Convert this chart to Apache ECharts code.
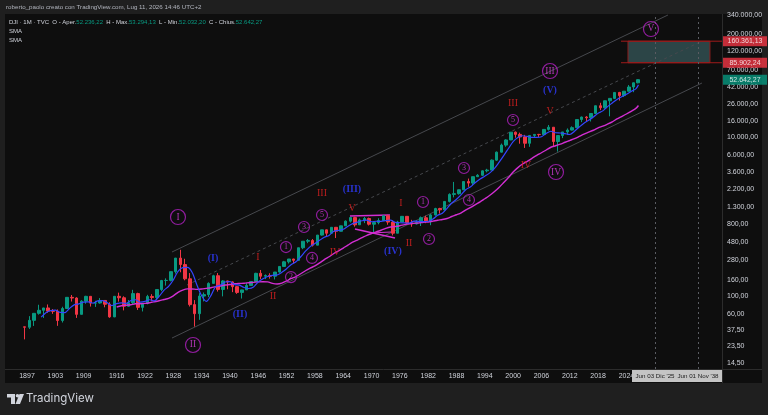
<!DOCTYPE html>
<html>
<head>
<meta charset="utf-8">
<title>DJI 1M - TVC</title>
<script src="https://cdn.jsdelivr.net/npm/echarts@6/dist/echarts.min.js"></script>
<style>
    html, body { margin: 0; padding: 0; background: #1f1f1f; }
    #main { width: 768px; height: 415px; }
</style>
</head>
<body>
<div id="main"></div>
<script>
// yearly candles of the Dow Jones Industrial Average (1896 .. 2026)
var firstYear = 1896;
var firstOpen = 40.94;
var closes = [
    40.45, 49.41, 60.52, 66.08, 70.71, 64.56, 64.29, 49.11, 69.61, 96.20,
    94.35, 58.75, 86.15, 99.05, 81.36, 81.68, 87.87, 78.78, 54.58, 99.15,
    95.00, 74.38, 82.20, 107.23, 71.95, 81.10, 98.73, 95.52, 120.51, 156.66,
    157.20, 202.40, 300.00, 248.48, 164.58, 77.90, 59.93, 99.90, 104.04, 144.13,
    179.90, 120.85, 154.76, 150.24, 131.13, 110.96, 119.40, 135.89, 152.32, 192.91,
    177.20, 181.16, 177.30, 200.13, 235.41, 269.23, 291.90, 280.90, 404.39, 488.40,
    499.47, 435.69, 583.65, 679.36, 615.89, 731.14, 652.10, 762.95, 874.13, 969.26,
    785.69, 905.11, 943.75, 800.36, 838.92, 890.20, 1020.02, 850.86, 616.24, 852.41,
    1004.65, 831.17, 805.01, 838.74, 963.99, 875.00, 1046.54, 1258.64, 1211.57, 1546.67,
    1895.95, 1938.83, 2168.57, 2753.20, 2633.66, 3168.83, 3301.11, 3754.09, 3834.44, 5117.12,
    6448.27, 7908.25, 9181.43, 11497.12, 10786.85, 10021.50, 8341.63, 10453.92, 10783.01, 10717.50,
    12463.15, 13264.82, 8776.39, 10428.05, 11577.51, 12217.56, 13104.14, 16576.66, 17823.07, 17425.03,
    19762.60, 24719.22, 23327.46, 28538.44, 30606.48, 36338.30, 33147.25, 37689.54, 42544.22, 48063.29,
    52642.27
];
var lows = [
    28.48, 38.49, 42.00, 58.27, 52.96, 61.52, 59.57, 42.15, 46.41, 68.76,
    85.18, 53.00, 58.62, 79.91, 73.62, 72.94, 80.15, 72.11, 53.17, 54.22,
    84.96, 65.95, 73.38, 79.15, 66.75, 63.90, 78.59, 85.76, 88.33, 115.00,
    135.20, 152.73, 191.33, 198.69, 157.51, 73.79, 41.22, 50.16, 85.51, 96.71,
    143.11, 113.64, 98.95, 121.44, 111.84, 106.34, 92.92, 119.26, 134.22, 151.35,
    163.12, 163.21, 165.39, 161.60, 196.81, 238.99, 256.35, 255.49, 279.87, 388.20,
    462.35, 419.79, 436.89, 574.46, 566.05, 610.25, 535.76, 646.79, 766.08, 840.59,
    744.32, 786.41, 825.13, 769.93, 631.16, 797.97, 889.15, 788.31, 577.60, 632.04,
    858.71, 800.85, 742.12, 796.67, 759.13, 824.01, 776.92, 1027.04, 1086.57, 1184.96,
    1502.29, 1738.74, 1879.14, 2144.64, 2365.10, 2470.30, 3136.58, 3241.95, 3593.35, 3832.08,
    5000.00, 6391.69, 7539.07, 9120.67, 9796.03, 8235.81, 7286.27, 7524.06, 9749.99, 10012.36,
    10667.39, 12050.41, 7552.29, 6547.05, 9686.48, 10655.30, 12101.46, 13328.85, 15372.80, 15666.44,
    15660.18, 19732.40, 21792.20, 22686.22, 18213.65, 29982.62, 28725.51, 31819.14, 37266.67, 36611.78,
    47300.00
];
var highs = [
    40.94, 55.82, 60.97, 77.61, 71.04, 78.26, 68.44, 67.70, 73.23, 96.56,
    103.00, 96.37, 88.38, 100.53, 98.34, 87.06, 94.15, 88.57, 83.43, 99.21,
    110.15, 99.18, 89.07, 119.62, 109.88, 81.50, 103.43, 105.38, 120.51, 159.39,
    166.64, 202.40, 300.00, 381.17, 294.07, 194.36, 88.78, 108.67, 110.74, 148.44,
    184.90, 194.40, 158.41, 155.92, 152.80, 133.59, 119.71, 145.82, 152.53, 195.82,
    212.50, 186.85, 193.16, 200.52, 235.47, 276.37, 292.00, 293.79, 404.39, 488.40,
    521.05, 520.77, 583.65, 679.36, 685.47, 734.91, 726.01, 767.21, 891.71, 969.26,
    995.15, 943.08, 985.21, 968.85, 842.00, 950.82, 1036.27, 1051.70, 891.66, 881.81,
    1014.79, 999.75, 907.74, 897.61, 1000.17, 1024.05, 1070.55, 1287.20, 1286.64, 1553.10,
    1955.57, 2722.42, 2183.50, 2791.41, 2999.75, 3168.83, 3413.21, 3794.33, 3978.36, 5216.47,
    6560.91, 8259.31, 9374.27, 11497.12, 11722.98, 11337.92, 10635.25, 10453.92, 10854.54, 10940.55,
    12510.57, 14164.53, 13058.20, 10548.51, 11585.38, 12810.54, 13610.15, 16576.66, 18053.71, 18312.39,
    19974.62, 24837.51, 26951.81, 28701.66, 30606.48, 36488.63, 36952.65, 37710.10, 45014.04, 48431.57,
    53294.13
];

// axis labels
var yearTicks = [1897, 1903, 1909, 1916, 1922, 1928, 1934, 1940, 1946, 1952, 1958,
    1964, 1970, 1976, 1982, 1988, 1994, 2000, 2006, 2012, 2018, 2024];
var priceTicks = [14.5, 23.5, 37.5, 60, 100, 160, 280, 480, 800, 1300, 2200, 3600,
    6000, 10000, 16000, 26000, 42000, 70000, 120000, 200000, 340000];

// drawings: [year, price]
var upperChannel = [[1927.72, 357.6], [2032.8, 342400]];
var midChannel = [[1930.9, 137.5], [2039.6, 156700]];
var lowerChannel = [[1927.72, 29.6], [2040.0, 47750]];
var triangleTop = [[1965.43, 1014.6], [1973.9, 1044]];
var triangleLow = [[1966.49, 696], [1974.97, 536.6]];
var triangleMid = [[1969.7, 620], [1974.6, 640]];
var targetHigh = 160361.13;
var targetLow = 85902.24;
var targetBox = [2024.33, 2041.7];
var targetLineStart = 2022.85;
var lastClose = 52642.27;
var futureDates = [2030.05, 2039.2];

// Elliott wave labels: [year, price, text]
var waveMajor = [[1928.99, 985, 'I'], [1932.17, 24.2, 'II'], [2007.81, 67600, 'III'],
    [2009.08, 3628, 'IV'], [2029.2, 228300, 'V']];
var waveMinor = [[1951.87, 413, '1'], [1952.93, 173, '2'], [1955.69, 738, '3'],
    [1957.38, 301, '4'], [1959.5, 1044, '5'], [1980.9, 1522, '1'], [1982.17, 521, '2'],
    [1989.58, 4074, '3'], [1990.64, 1612, '4'], [1999.97, 16360, '5']];
var waveRed = [[1945.94, 309, 'I'], [1949.12, 100, 'II'], [1959.5, 1975, 'III'],
    [1962.25, 358, 'IV'], [1965.86, 1279, 'V'], [1976.24, 1480, 'I'], [1977.93, 464, 'II'],
    [1999.97, 26770, 'III'], [2002.72, 4444, 'IV'], [2007.81, 21230, 'V']];
var waveBlue = [[1936.41, 301, '(I)'], [1942.13, 59.4, '(II)'], [1965.86, 2218, '(III)'],
    [1974.54, 368, '(IV)'], [2007.81, 38990, '(V)']];

// plot extent
var X_MIN = 1892.34, X_MAX = 2044.25;
var Y_MIN = 1.08176, Y_MAX = 5.54717;

var UP = '#089981', DOWN = '#f23645';

function L(v) { return Math.log10(v); }

// 52642.27 -> 52.642,27
function itFmt(v) {
    var parts = v.toFixed(2).split('.');
    return parts[0].replace(/\B(?=(\d{3})+(?!\d))/g, '.') + ',' + parts[1];
}

function buildCandles() {
    var out = [];
    for (var i = 0; i < closes.length; i++) {
        var o = i === 0 ? firstOpen : closes[i - 1];
        var c = closes[i];
        var lo = Math.min(lows[i], o, c);
        var hi = Math.max(highs[i], o, c);
        out.push([firstYear + i + 0.5, L(o), L(c), L(lo), L(hi)]);
    }
    return out;
}

// simple moving average of the yearly closes (n years)
function sma(n) {
    var out = [];
    for (var i = n - 1; i < closes.length; i++) {
        var s = 0;
        for (var k = i - n + 1; k <= i; k++) s += closes[k];
        var x = i === closes.length - 1 ? firstYear + i + 0.55 : firstYear + i + 1;
        out.push([x, L(s / n)]);
    }
    return out;
}

function toLog(pts) {
    return pts.map(function (p) { return [p[0], L(p[1])]; });
}

function lineSeries(pts, color, width, type) {
    return {
        type: 'line', data: toLog(pts), showSymbol: false, silent: true, z: 4,
        lineStyle: {color: color, width: width, type: type || 'solid'}
    };
}

function maSeries(n, color, width) {
    return {
        type: 'line', data: sma(n), showSymbol: false, silent: true, z: 8,
        smooth: 0.3, itemStyle: {color: color},
        lineStyle: {color: color, width: width, opacity: 1}
    };
}

function waveSeries(list, circle, size, color, fontSize, weight) {
    return {
        type: 'scatter', silent: true, z: 12, clip: false,
        symbol: 'circle', symbolSize: size,
        itemStyle: circle
            ? {color: 'rgba(0,0,0,0)', borderColor: '#b021c0', borderWidth: 1.2}
            : {color: 'rgba(0,0,0,0)'},
        label: {
            show: true, position: 'inside', formatter: '{b}', color: color,
            fontSize: fontSize, fontWeight: weight || 'normal',
            fontFamily: 'Liberation Serif, DejaVu Serif, serif'
        },
        data: list.map(function (w) { return {name: w[2], value: [w[0], L(w[1])]}; })
    };
}

function tagItem(v, color) {
    return {
        value: [X_MAX, L(v)], itemStyle: {color: color},
        label: {formatter: itFmt(v)}
    };
}

var chart = echarts.init(document.getElementById('main'));

var option = {
    backgroundColor: '#1f1f1f',
    animation: false,
    textStyle: {fontFamily: 'Liberation Sans, Arial, sans-serif'},
    grid: {left: 5, right: 46, top: 14, bottom: 46},
    xAxis: {
        type: 'value', min: X_MIN, max: X_MAX,
        splitLine: {show: false}, axisLine: {show: false}, axisTick: {show: false},
        axisLabel: {
            customValues: yearTicks, color: '#d1d4dc', fontSize: 7, margin: 4,
            formatter: function (v) { return String(Math.round(v)); }
        }
    },
    yAxis: {
        type: 'value', position: 'right', min: Y_MIN, max: Y_MAX, scale: true,
        splitLine: {show: false}, axisLine: {show: false}, axisTick: {show: false},
        axisLabel: {
            customValues: priceTicks.map(L), color: '#d1d4dc', fontSize: 7, margin: 5,
            formatter: function (v) { return itFmt(Math.pow(10, v)); }
        }
    },
    graphic: [
        {type: 'rect', z: -10, silent: true, shape: {x: 5, y: 14, width: 757, height: 369},
            style: {fill: '#0e0e0e'}},
        {type: 'line', z: 50, silent: true, shape: {x1: 722.5, y1: 14, x2: 722.5, y2: 383},
            style: {stroke: '#2c2c2c', lineWidth: 1}},
        {type: 'line', z: 50, silent: true, shape: {x1: 5, y1: 369.5, x2: 762, y2: 369.5},
            style: {stroke: '#2c2c2c', lineWidth: 1}},
        {type: 'text', x: 6, y: 7, silent: true, style: {
            text: 'roberto_paolo creato con TradingView.com, Lug 11, 2026 14:46 UTC+2',
            fill: '#b2b5be', fontSize: 6.2, verticalAlign: 'middle'}},
        {type: 'text', x: 9, y: 22, silent: true, style: {
            text: '{w|DJI · 1M · TVC  O - Aper.}{g|52.236,22}{w|  H - Max.}{g|53.294,13}' +
                '{w|  L - Min.}{g|52.032,20}{w|  C - Chius.}{g|52.642,27}',
            verticalAlign: 'middle',
            rich: {w: {fill: '#d1d4dc', fontSize: 6}, g: {fill: UP, fontSize: 6}}}},
        {type: 'text', x: 9, y: 31, silent: true, style: {
            text: 'SMA', fill: '#d1d4dc', fontSize: 6, verticalAlign: 'middle'}},
        {type: 'text', x: 9, y: 40, silent: true, style: {
            text: 'SMA', fill: '#d1d4dc', fontSize: 6, verticalAlign: 'middle'}},
        {type: 'rect', z: 100, silent: true, shape: {x: 632, y: 370, width: 90, height: 12},
            style: {fill: '#c4c4c4'}},
        {type: 'text', z: 101, x: 655, y: 376, silent: true, style: {
            text: "Jun 03 Dic '25", fill: '#1a1a1a', fontSize: 6.2,
            align: 'center', verticalAlign: 'middle'}},
        {type: 'text', z: 101, x: 698, y: 376, silent: true, style: {
            text: "Jun 01 Nov '38", fill: '#1a1a1a', fontSize: 6.2,
            align: 'center', verticalAlign: 'middle'}},
        // TradingView logo
        {type: 'rect', silent: true, shape: {x: 7, y: 394, width: 8, height: 3.5},
            style: {fill: '#d1d4dc'}},
        {type: 'rect', silent: true, shape: {x: 11, y: 394, width: 4, height: 10},
            style: {fill: '#d1d4dc'}},
        {type: 'circle', silent: true, shape: {cx: 17.5, cy: 395.8, r: 1.8},
            style: {fill: '#d1d4dc'}},
        {type: 'polygon', silent: true, shape: {points: [[19.5, 394], [24, 394], [20, 404], [15.5, 404]]},
            style: {fill: '#d1d4dc'}},
        {type: 'text', x: 26, y: 399, silent: true, style: {
            text: 'TradingView', fill: '#d1d4dc', fontSize: 11.5,
            fontFamily: 'Inter, Noto Sans, sans-serif', verticalAlign: 'middle'}}
    ],
    series: [
        // channel
        lineSeries(upperChannel, '#46484d', 1),
        lineSeries(midChannel, '#46484d', 1, [3, 3]),
        lineSeries(lowerChannel, '#46484d', 1),
        // target zone edges
        lineSeries([[targetLineStart, targetHigh], [X_MAX, targetHigh]], '#a01b1b', 1),
        lineSeries([[targetLineStart, targetLow], [X_MAX, targetLow]], '#a01b1b', 1),
        {
            type: 'line', data: [], silent: true, z: 3,
            markArea: {
                silent: true,
                itemStyle: {color: '#2c4547', borderColor: '#8c1d1d', borderWidth: 1},
                data: [[{coord: [targetBox[0], L(targetHigh)]}, {coord: [targetBox[1], L(targetLow)]}]]
            },
            markLine: {
                silent: true, symbol: 'none', label: {show: false},
                lineStyle: {color: '#5a5c62', type: [2, 3], width: 1},
                data: futureDates.map(function (d) { return {xAxis: d}; })
            }
        },
        // price
        {
            type: 'candlestick', data: buildCandles(), barWidth: 3, silent: true, z: 6,
            encode: {x: 0, y: [1, 2, 3, 4]},
            itemStyle: {color: UP, color0: DOWN, borderColor: UP, borderColor0: DOWN, borderWidth: 1}
        },
        // moving averages
        maSeries(20, '#d22ed2', 1.4),
        maSeries(4, '#3446ff', 1.2),
        // triangle drawing
        lineSeries(triangleTop, '#d22ed2', 1.4),
        lineSeries(triangleLow, '#d22ed2', 1.4),
        lineSeries(triangleMid, '#d22ed2', 1),
        // wave counts
        waveSeries(waveMajor, true, 15, '#db3fe0', 9.5),
        waveSeries(waveMinor, true, 11, '#db3fe0', 8),
        waveSeries(waveRed, false, 1, '#e52222', 10),
        waveSeries(waveBlue, false, 1, '#2f3cff', 10, 'bold'),
        // price tags on the axis
        {
            type: 'scatter', silent: true, clip: false, z: 60,
            symbol: 'rect', symbolSize: [44, 10], symbolOffset: [23, 0],
            label: {show: true, position: 'inside', color: '#ffffff', fontSize: 7},
            data: [tagItem(targetHigh, '#f23645'), tagItem(targetLow, '#f23645'), tagItem(lastClose, UP)]
        }
    ]
};

chart.setOption(option);
</script>
</body>
</html>
